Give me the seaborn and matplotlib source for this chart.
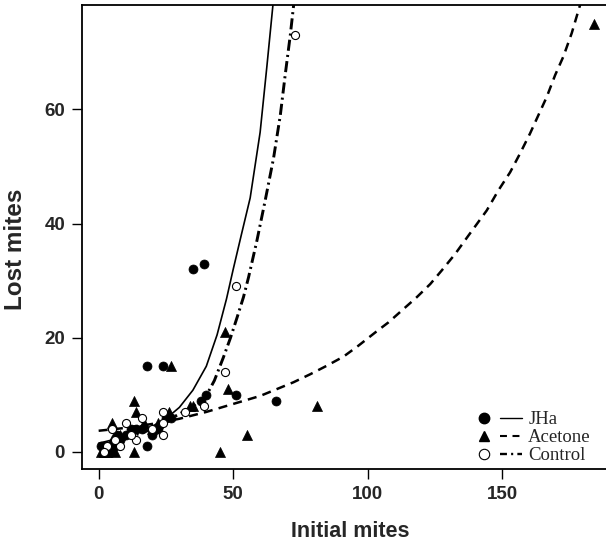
import matplotlib
matplotlib.use("Agg")
import matplotlib.pyplot as plt
from matplotlib.lines import Line2D
from matplotlib.legend_handler import HandlerTuple
import seaborn as sns
import pandas as pd

# ---------------- data ----------------
jha_x = [35, 39, 18, 24, 40, 38, 51, 66, 18, 20, 22, 25, 14, 10, 8, 6, 4, 3, 2, 1, 5, 7, 12, 16, 27, 2, 3, 5]
jha_y = [32, 33, 15, 15, 10, 9, 10, 9, 1, 3, 4, 6, 4, 3, 2, 1, 0, 1, 0, 1, 0, 3, 4, 4, 6, 1, 0, 1]

acet_x = [184, 47, 27, 48, 81, 55, 45, 13, 14, 13, 26, 35, 5, 17, 34, 4, 6, 2, 3, 7, 8, 20, 22, 1, 5]
acet_y = [75, 21, 15, 11, 8, 3, 0, 9, 7, 0, 7, 8, 5, 5, 8, 1, 0, 0, 0, 2, 3, 4, 5, 0, 2]

ctrl_x = [73, 51, 47, 39, 32, 24, 24, 24, 10, 16, 14, 5, 8, 12, 20, 3, 6, 2]
ctrl_y = [73, 29, 14, 8, 7, 7, 3, 5, 5, 6, 2, 4, 1, 3, 4, 1, 2, 0]

jha_curve_x = [0, 5, 10, 15, 20, 25, 30, 35, 40, 44, 47.5, 50, 53, 56.3, 60, 62.5, 64.8]
jha_curve_y = [1.5, 2.1, 2.7, 3.4, 4.5, 5.8, 7.8, 10.8, 15.0, 20.5, 26.8, 32.0, 38.0, 44.5, 56.0, 67.5, 78.5]

acet_curve_x = [0, 10, 20, 30, 40, 50, 60, 66.2, 72.4, 78.6, 84.8, 91, 96.5, 102.7, 107.7, 113.9,
                118.2, 123.2, 127.5, 132.5, 137.4, 144.2, 148.5, 152.9, 156.6, 160.3, 163.4,
                166.5, 169.6, 172.7, 175.8, 179]
acet_curve_y = [3.7, 4.2, 4.9, 5.8, 7.0, 8.4, 9.8, 11.0, 12.2, 13.6, 15.1, 16.7, 18.6, 20.9, 22.7, 25.3,
                27.1, 29.4, 31.8, 34.7, 37.9, 42.3, 45.8, 49.0, 52.3, 55.8, 59.0,
                62.2, 66.0, 69.3, 73.4, 78.5]

ctrl_curve_x = [1, 10, 20, 26.7, 34.1, 39.6, 43, 46.3, 49, 51.4, 53.8, 55.7, 58.8, 61.9, 65, 67.5, 69.3, 71.2, 72.5]
ctrl_curve_y = [1.1, 2.4, 4.0, 5.8, 7.7, 9.5, 12.5, 16.5, 20.0, 23.5, 27.1, 30.6, 37.0, 44.1, 51.5, 59.0, 66.0, 73.0, 78.5]

group_labels = ["JHa", "Acetone", "Control"]
x_ticks = [0, 50, 100, 150]
y_ticks = [0, 20, 40, 60]

# ---------------- style ----------------
sns.set_style("white")
plt.rcParams["font.family"] = ["Liberation Sans", "DejaVu Sans"]
plt.rcParams["lines.scale_dashes"] = False

fig = plt.figure(figsize=(6.06, 5.45), dpi=100)
ax = fig.add_axes([81.7 / 606, 1 - 469 / 545, (613.5 - 81.7) / 606, (469 - 5) / 545])

pts = pd.concat([
    pd.DataFrame({"x": jha_x, "y": jha_y, "g": group_labels[0]}),
    pd.DataFrame({"x": acet_x, "y": acet_y, "g": group_labels[1]}),
    pd.DataFrame({"x": ctrl_x, "y": ctrl_y, "g": group_labels[2]}),
])
curves = {
    group_labels[0]: pd.DataFrame({"x": jha_curve_x, "y": jha_curve_y}),
    group_labels[1]: pd.DataFrame({"x": acet_curve_x, "y": acet_curve_y}),
    group_labels[2]: pd.DataFrame({"x": ctrl_curve_x, "y": ctrl_curve_y}),
}

styles = {
    "JHa": dict(ls="-", lw=1.2),
    "Acetone": dict(ls=(0, (6.5, 4.5)), lw=1.8),
    "Control": dict(ls=(0, (8, 3, 1.5, 3)), lw=2.1),
}
for g, df in curves.items():
    sns.lineplot(data=df, x="x", y="y", ax=ax, color="black", sort=False,
                 linestyle=styles[g]["ls"], linewidth=styles[g]["lw"], estimator=None)

sns.scatterplot(data=pts[pts.g == "JHa"], x="x", y="y", ax=ax, marker="o", s=42,
                color="black", edgecolor="black", linewidth=0.5, zorder=3)
sns.scatterplot(data=pts[pts.g == "Acetone"], x="x", y="y", ax=ax, marker="^", s=52,
                color="black", edgecolor="black", linewidth=0.5, zorder=3)
sns.scatterplot(data=pts[pts.g == "Control"], x="x", y="y", ax=ax, marker="o", s=34,
                facecolor="white", edgecolor="black", linewidth=0.8, zorder=4)

ax.set_xlim(-6.3, 191.3)
ax.set_ylim(-3.0, 78.3)
ax.set_xticks(x_ticks)
ax.set_yticks(y_ticks)
ax.set_xticklabels([str(t) for t in x_ticks], fontsize=13.5, fontweight="bold")
ax.set_yticklabels([str(t) for t in y_ticks], fontsize=13.5, fontweight="bold")
ax.tick_params(axis="both", direction="out", length=7, width=1.0, color="black", pad=5,
               bottom=True, left=True)
for sp in ax.spines.values():
    sp.set_color("black")
    sp.set_linewidth(1.3)

ax.set_xlabel("Initial mites", fontsize=15.5, fontweight="bold")
ax.set_ylabel("Lost mites", fontsize=17.5, fontweight="bold")
ax.xaxis.set_label_coords(0.5045, -0.112)
ax.xaxis.label.set_verticalalignment("top")
ax.yaxis.set_label_coords(-0.103, 0.474)

# legend: marker + line sample + label
h = []
h.append((Line2D([], [], marker="o", ls="none", color="black", markersize=7.5),
          Line2D([], [], color="black", ls="-", lw=1.0)))
h.append((Line2D([], [], marker="^", ls="none", color="black", markersize=7.5),
          Line2D([], [], color="black", ls=(0, (5, 4)), lw=1.5)))
h.append((Line2D([], [], marker="o", ls="none", markerfacecolor="white",
                 markeredgecolor="black", markersize=7.5, markeredgewidth=0.8),
          Line2D([], [], color="black", ls=(0, (5, 3, 1.5, 3)), lw=1.7)))
leg = ax.legend(h, group_labels, handler_map={tuple: HandlerTuple(ndivide=None, pad=0.25)},
                loc="upper left", bbox_to_anchor=(473 / 606, 1 - 411 / 545),
                bbox_transform=fig.transFigure, frameon=False, borderpad=0, borderaxespad=0,
                handlelength=2.6, handletextpad=0.35, labelspacing=0.05,
                prop={"family": ["Liberation Serif", "DejaVu Serif"], "size": 13.5})

fig.savefig("out.png", dpi=100)
